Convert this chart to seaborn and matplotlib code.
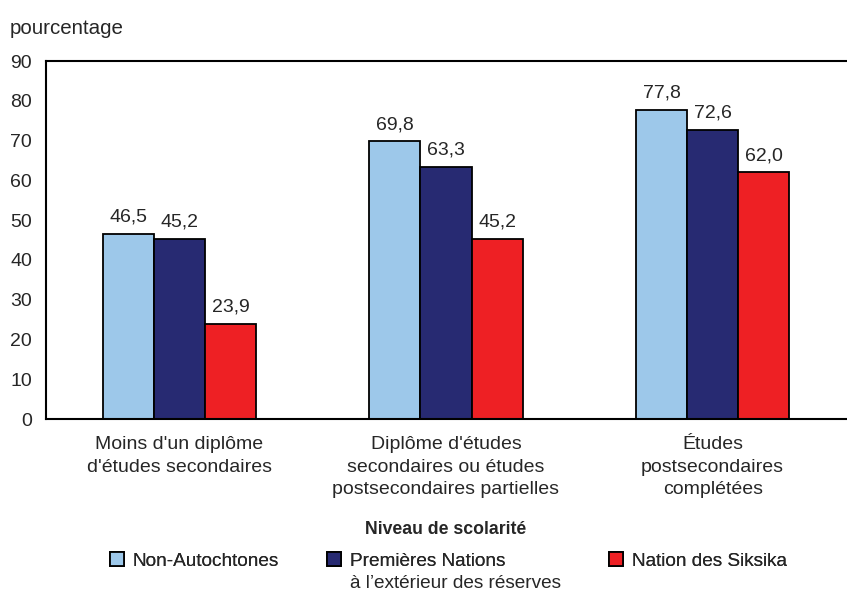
import numpy as np
import pandas as pd
import matplotlib
matplotlib.use('Agg')
import matplotlib.pyplot as plt
import seaborn as sns
from matplotlib.patches import Patch

# Data
categories = [
    "Moins d'un diplôme\nd'études secondaires",
    "Diplôme d'études\nsecondaires ou études\npostsecondaires partielles",
    "Études\npostsecondaires\ncomplétées",
]
groups = ['Non-Autochtones',
          'Premières Nations\nà l\u2019extérieur des réserves',
          'Nation des Siksika']
non_autochtones = [46.5, 69.8, 77.8]
premieres_nations = [45.2, 63.3, 72.6]
siksika = [23.9, 45.2, 62.0]
colors = ['#9DC8EA', '#272A72', '#EE2024']
y_ticks = [0, 10, 20, 30, 40, 50, 60, 70, 80, 90]

df = pd.DataFrame({
    'categorie': categories * 3,
    'groupe': [groups[0]] * 3 + [groups[1]] * 3 + [groups[2]] * 3,
    'valeur': non_autochtones + premieres_nations + siksika,
})

sns.set_style('white')
plt.rcParams['font.family'] = ['Liberation Sans', 'DejaVu Sans']
FS = 14
LFS = 13.7

fig = plt.figure(figsize=(8.47, 5.91), dpi=100)
ax = fig.add_axes([46 / 847, 1 - 419 / 591, 800 / 847, (419 - 61) / 591])

sns.barplot(data=df, x='categorie', y='valeur', hue='groupe', order=categories,
            hue_order=groups, palette=colors, width=0.575, edgecolor='black',
            linewidth=1.3, saturation=1, legend=False, ax=ax)

for cont in ax.containers:
    labels = [f'{b.get_height():.1f}'.replace('.', ',') for b in cont]
    ax.bar_label(cont, labels=labels, padding=6, fontsize=FS)

ax.set_xlim(-0.5, 2.5)
ax.set_ylim(0, 90)
ax.set_yticks(y_ticks)
ax.set_ylabel('')
ax.set_xlabel('Niveau de scolarité', fontsize=FS - 1.3, fontweight='bold', labelpad=16)
ax.tick_params(axis='y', direction='in', length=8, width=1.5, pad=10, labelsize=FS)
ax.tick_params(axis='x', length=0, pad=12, labelsize=FS)
for lab in ax.get_xticklabels():
    lab.set_linespacing(1.45)

for s in ['left', 'top', 'bottom']:
    ax.spines[s].set_color('black')
    ax.spines[s].set_linewidth(1.5)
ax.spines['right'].set_visible(False)

fig.text(10 / 847, 1 - 29 / 591, 'pourcentage', fontsize=FS + 0.8, va='center', ha='left')

# Legend, one entry at a time; the second line of the long label is set below its entry
leg_x = [110, 327, 609]
renderer = fig.canvas.get_renderer()
for g, c, x in zip(groups, colors, leg_x):
    first, _, rest = g.partition('\n')
    h = Patch(facecolor=c, edgecolor='black', linewidth=1.3, label=first)
    lg = fig.legend(handles=[h], loc='center left', bbox_to_anchor=(x / 847, 1 - 561 / 591),
                    frameon=False, fontsize=LFS, handlelength=0.75, handleheight=0.75,
                    handletextpad=0.45, borderpad=0, borderaxespad=0)
    fig.add_artist(lg)
    if rest:
        fig.canvas.draw()
        bb = lg.get_texts()[0].get_window_extent(renderer)
        fig.text(bb.x0 / 847, 1 - 583 / 591, rest, fontsize=LFS, ha='left', va='center')

fig.savefig('out.png', dpi=100)
